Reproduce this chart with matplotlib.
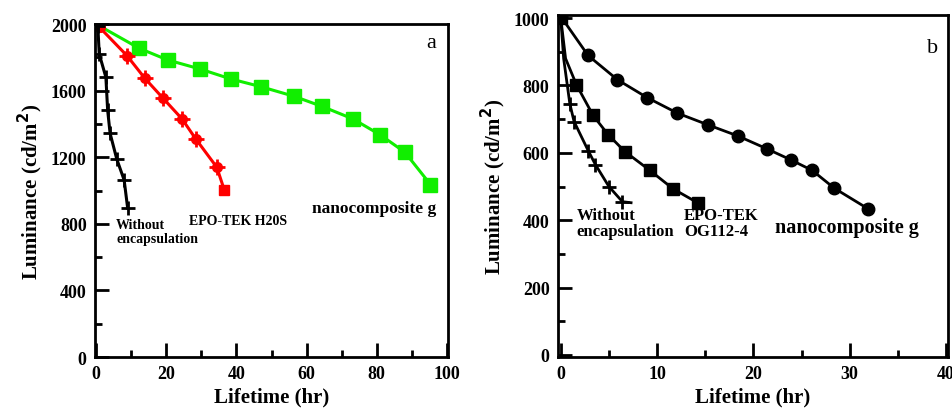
import matplotlib.pyplot as plt

plt.rcParams['font.family'] = ['Liberation Serif', 'DejaVu Serif']
plt.rcParams['font.weight'] = 'bold'

# panel a
a_nano_x = [0, 12.3, 20.4, 29.6, 38.4, 46.9, 56.4, 64.3, 73.2, 81.0, 88.0, 95.3]
a_nano_y = [2000, 1854, 1784, 1730, 1670, 1624, 1566, 1506, 1430, 1334, 1230, 1036]
a_epo_x = [1.0, 8.8, 13.9, 19.1, 24.5, 28.4, 34.4, 36.5]
a_epo_y = [1980, 1810, 1674, 1554, 1430, 1310, 1140, 1006]
a_bare_x = [0.5, 0.9, 2.8, 3.3, 4.0, 5.9, 8.0, 9.0]
a_bare_y = [1990, 1820, 1680, 1483, 1343, 1189, 1063, 895]

# panel b
b_nano_x = [0, 2.84, 5.89, 8.97, 12.1, 15.3, 18.4, 21.4, 23.9, 26.1, 28.4, 31.9]
b_nano_y = [1005, 889, 817, 764, 718, 683, 650, 612, 579, 548, 495, 434]
b_og_x = [0, 0.5, 1.63, 3.36, 4.92, 6.65, 9.25, 11.67, 14.2]
b_og_y = [1000, 880, 802, 711, 654, 604, 548, 493, 452]
b_bare_x = [0, 0.3, 0.94, 1.38, 2.84, 3.6, 5.0, 6.4, 7.3]
b_bare_y = [1000, 880, 746, 693, 607, 565, 500, 455, 452]

fig = plt.figure(figsize=(9.52, 4.1), dpi=100)
ax1 = fig.add_axes([0.0998, 0.1268, 0.3708, 0.8122])
ax2 = fig.add_axes([0.586, 0.1268, 0.4098, 0.834])


def style(ax):
    for s in ax.spines.values():
        s.set_linewidth(2)
    ax.tick_params(which='both', direction='in', top=False, right=False,
                   labelsize=13, width=2, pad=6)
    ax.tick_params(which='major', length=10)
    ax.tick_params(which='minor', length=5)
    ax.set_xlabel('Lifetime (hr)', fontsize=15, fontweight='bold', labelpad=3)
    ax.set_ylabel('Luminance (cd/m$^\\mathbf{2}$)', fontsize=15, fontweight='bold')


# a
ax1.plot(a_nano_x, a_nano_y, color='#11ee00', lw=2.2, marker='s', ms=10)
ax1.plot(a_epo_x[:-1], a_epo_y[:-1], color='red', lw=2.2, marker='o', ms=7)
ax1.plot(a_epo_x[1:-1], a_epo_y[1:-1], ls='none', color='red', marker='+', ms=11, mew=2)
ax1.plot(a_epo_x[-2:], a_epo_y[-2:], color='red', lw=2.2)
ax1.plot(a_epo_x[-1:], a_epo_y[-1:], color='red', marker='s', ms=7)
ax1.plot(a_bare_x, a_bare_y, color='black', lw=2.2, marker='+', ms=10, mew=2)
ax1.set_xlim(-0.3, 100.3)
ax1.set_ylim(0, 2000)
ax1.set_xticks([0, 20, 40, 60, 80, 100])
ax1.set_xticks([10, 30, 50, 70, 90], minor=True)
ax1.set_yticks([0, 400, 800, 1200, 1600, 2000])
ax1.set_yticks([200, 600, 1000, 1400, 1800], minor=True)
style(ax1)
ax1.text(97, 1860, 'a', fontsize=16, fontweight='normal', ha='right')
ax1.text(5.7, 835, 'Without\nencapsulation', fontsize=10, va='top', linespacing=1.1)
ax1.text(26.4, 822, 'EPO-TEK H20S', fontsize=10, va='center')
ax1.text(61.4, 893, 'nanocomposite g', fontsize=12.5, va='center')

# b
ax2.plot(b_nano_x, b_nano_y, color='black', lw=2, marker='o', ms=9)
ax2.plot(b_og_x, b_og_y, color='black', lw=2, marker='s', ms=9, markevery=[0, 2, 3, 4, 5, 6, 7, 8])
ax2.plot(b_bare_x, b_bare_y, color='black', lw=2, marker='+', ms=10, mew=2, markevery=[2, 3, 4, 5, 6, 7])
ax2.set_xlim(-0.3, 40.2)
ax2.set_ylim(-6, 1009)
ax2.set_xticks([0, 10, 20, 30, 40])
ax2.set_xticks([5, 15, 25, 35], minor=True)
ax2.set_yticks([0, 200, 400, 600, 800, 1000])
ax2.set_yticks([100, 300, 500, 700, 900], minor=True)
style(ax2)
ax2.text(39.2, 900, 'b', fontsize=16, fontweight='normal', ha='right')
ax2.text(1.63, 440, 'Without\nencapsulation', fontsize=12, va='top', linespacing=1.05)
ax2.text(12.8, 440, 'EPO-TEK\nOG112-4', fontsize=12, va='top', linespacing=1.05)
ax2.text(22.2, 380, 'nanocomposite g', fontsize=14.5, va='center')

fig.savefig('out.png', dpi=100)
